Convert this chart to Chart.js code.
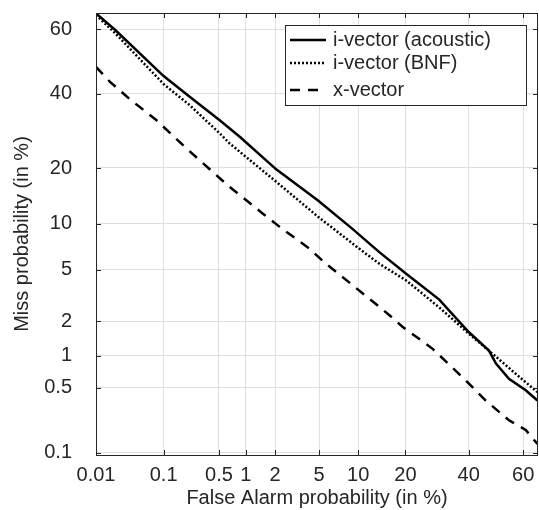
<!DOCTYPE html>
<html>
<head>
<meta charset="utf-8">
<script src="https://cdn.jsdelivr.net/npm/chart.js@4/dist/chart.umd.min.js"></script>
<style>
  html, body { margin: 0; padding: 0; background: #fff; }
  #wrap { width: 539px; height: 510px; }
</style>
</head>
<body>
<div id="wrap"><canvas id="det" width="539" height="510"></canvas></div>
<script>
// DET curve values (in %)
const acousticFA   = [0.01, 0.02, 0.1, 0.22, 0.51, 0.86, 2.05, 4.9, 9.1, 13.9, 20.1, 29.9, 40, 47.4, 50, 54.8, 60.9, 65];
const acousticMiss = [64.8, 59.8, 45.4, 39, 32.1, 27.6, 19.7, 13.6, 9.3, 6.6, 4.7, 3.0, 1.63, 1.12, 0.85, 0.61, 0.47, 0.37];

const bnfFA   = [0.01, 0.02, 0.1, 0.22, 0.51, 0.66, 2.05, 4.9, 9.7, 13.9, 20.1, 29.9, 40, 48.7, 57.3, 65];
const bnfMiss = [64.3, 58.8, 42.9, 36.5, 28.5, 25.9, 17.1, 11, 7.2, 5.5, 4.2, 2.6, 1.58, 1.05, 0.68, 0.45];

const xvecFA   = [0.01, 0.0166, 0.033, 0.08, 0.2, 0.66, 1.5, 2.2, 4.1, 5.7, 12.6, 16.1, 19.3, 27.8, 37.8, 46.2, 54.8, 60.9, 65];
const xvecMiss = [48.3, 43.6, 38.3, 32.1, 24.6, 16.1, 11.5, 9.6, 7.0, 5.5, 2.9, 2.25, 1.8, 1.16, 0.63, 0.37, 0.23, 0.18, 0.126];

const xTicks = [0.01, 0.1, 0.5, 1, 2, 5, 10, 20, 40, 60];
const yTicks = [0.1, 0.5, 1, 2, 5, 10, 20, 40, 60];

const seriesNames = ["i-vector (acoustic)", "i-vector (BNF)", "x-vector"];

// inverse normal cdf (Acklam)
function probit(p) {
  const a = [-3.969683028665376e+01, 2.209460984245205e+02, -2.759285104469687e+02, 1.383577518672690e+02, -3.066479806614716e+01, 2.506628277459239e+00];
  const b = [-5.447609879822406e+01, 1.615858368580409e+02, -1.556989798598866e+02, 6.680131188771972e+01, -1.328068155288572e+01];
  const c = [-7.784894002430293e-03, -3.223964580411365e-01, -2.400758277161838e+00, -2.549732539343734e+00, 4.374664141464968e+00, 2.938163982698783e+00];
  const d = [7.784695709041462e-03, 3.224671290700398e-01, 2.445134137142996e+00, 3.754408661907416e+00];
  const pl = 0.02425;
  let q, r;
  if (p < pl) {
    q = Math.sqrt(-2 * Math.log(p));
    return (((((c[0]*q+c[1])*q+c[2])*q+c[3])*q+c[4])*q+c[5]) / ((((d[0]*q+d[1])*q+d[2])*q+d[3])*q+1);
  } else if (p <= 1 - pl) {
    q = p - 0.5; r = q * q;
    return (((((a[0]*r+a[1])*r+a[2])*r+a[3])*r+a[4])*r+a[5])*q / (((((b[0]*r+b[1])*r+b[2])*r+b[3])*r+b[4])*r+1);
  }
  q = Math.sqrt(-2 * Math.log(1 - p));
  return -(((((c[0]*q+c[1])*q+c[2])*q+c[3])*q+c[4])*q+c[5]) / ((((d[0]*q+d[1])*q+d[2])*q+d[3])*q+1);
}

function pts(fa, miss) {
  return fa.map((f, i) => ({ x: probit(f / 100), y: probit(miss[i] / 100) }));
}

const TXT = "#262626";
const FONT = "'Liberation Sans', Arial, sans-serif";
const dashes = [[], [2, 2], [10, 8]];

// box around the axes with inward tick marks, matlab style
const boxTicks = {
  id: "boxTicks",
  afterDraw(chart) {
    const { ctx, chartArea: ca, scales } = chart;
    ctx.save();
    ctx.strokeStyle = TXT;
    ctx.lineWidth = 1;
    ctx.beginPath();
    xTicks.forEach(v => {
      const px = Math.round(scales.x.getPixelForValue(probit(v / 100))) + 0.5;
      ctx.moveTo(px, ca.bottom); ctx.lineTo(px, ca.bottom - 5);
      ctx.moveTo(px, ca.top); ctx.lineTo(px, ca.top + 5);
    });
    yTicks.forEach(v => {
      const py = Math.round(scales.y.getPixelForValue(probit(v / 100))) + 0.5;
      ctx.moveTo(ca.left, py); ctx.lineTo(ca.left + 5, py);
      ctx.moveTo(ca.right, py); ctx.lineTo(ca.right - 5, py);
    });
    ctx.stroke();
    ctx.strokeRect(ca.left + 0.5, ca.top + 0.5, ca.right - ca.left - 1, ca.bottom - ca.top);
    ctx.restore();
  },
  afterDatasetsDraw(chart) {
    const { ctx, chartArea: ca } = chart;
    const x0 = ca.right - 253, y0 = ca.top + 12, w = 241, h = 80;
    ctx.save();
    ctx.fillStyle = "#fff";
    ctx.fillRect(x0, y0, w, h);
    ctx.strokeStyle = TXT;
    ctx.lineWidth = 1;
    ctx.strokeRect(x0 + 0.5, y0 + 0.5, w, h);
    ctx.font = "20px " + FONT;
    ctx.textBaseline = "middle";
    const rows = [15, 38, 65];
    seriesNames.forEach((name, i) => {
      const y = y0 + rows[i];
      ctx.strokeStyle = "#000";
      ctx.lineWidth = 2.5;
      ctx.setLineDash(dashes[i]);
      ctx.beginPath();
      ctx.moveTo(x0 + 5, y); ctx.lineTo(x0 + (i === 2 ? 38 : 41), y);
      ctx.stroke();
      ctx.setLineDash([]);
      ctx.fillStyle = TXT;
      ctx.fillText(name, x0 + 48, y);
    });
    ctx.restore();
  }
};

window.onload = function () {
  const ctx = document.getElementById("det").getContext("2d");
  new Chart(ctx, {
    type: "line",
    data: {
      datasets: [
        { label: seriesNames[0], data: pts(acousticFA, acousticMiss), borderColor: "#000", borderWidth: 2.5, borderDash: dashes[0] },
        { label: seriesNames[1], data: pts(bnfFA, bnfMiss), borderColor: "#000", borderWidth: 2.5, borderDash: dashes[1] },
        { label: seriesNames[2], data: pts(xvecFA, xvecMiss), borderColor: "#000", borderWidth: 2.5, borderDash: dashes[2] }
      ]
    },
    options: {
      responsive: false,
      animation: false,
      parsing: false,
      layout: { padding: { top: 13, right: 1, left: 0, bottom: 0 } },
      elements: { point: { radius: 0 }, line: { tension: 0, fill: false } },
      plugins: { legend: { display: false }, tooltip: { enabled: false } },
      scales: {
        x: {
          type: "linear",
          min: probit(0.0001),
          max: probit(0.652),
          afterBuildTicks: s => { s.ticks = xTicks.map(v => ({ value: probit(v / 100) })); },
          afterFit: s => { s.height = 55; s.paddingLeft = 0; s.paddingRight = 0; },
          grid: { color: "#dfdfdf", drawTicks: false },
          border: { display: false },
          ticks: {
            autoSkip: false, maxRotation: 0, padding: 8, color: TXT,
            font: { family: FONT, size: 20 },
            callback: (v, i) => String(xTicks[i])
          },
          title: { display: true, text: "False Alarm probability (in %)", color: TXT, font: { family: FONT, size: 20 }, padding: { top: 0, bottom: 0 } }
        },
        y: {
          type: "linear",
          min: probit(0.00094),
          max: probit(0.649),
          afterBuildTicks: s => { s.ticks = yTicks.map(v => ({ value: probit(v / 100) })); },
          afterFit: s => { s.width = 96; s.paddingTop = 0; s.paddingBottom = 0; },
          grid: { color: "#dfdfdf", drawTicks: false },
          border: { display: false },
          ticks: {
            autoSkip: false, padding: 24, color: TXT,
            font: { family: FONT, size: 20 },
            callback: (v, i) => String(yTicks[i])
          },
          title: { display: true, text: "Miss probability (in %)", color: TXT, font: { family: FONT, size: 20 }, padding: { top: 10, bottom: 0 } }
        }
      }
    },
    plugins: [boxTicks]
  });
};
</script>
</body>
</html>
